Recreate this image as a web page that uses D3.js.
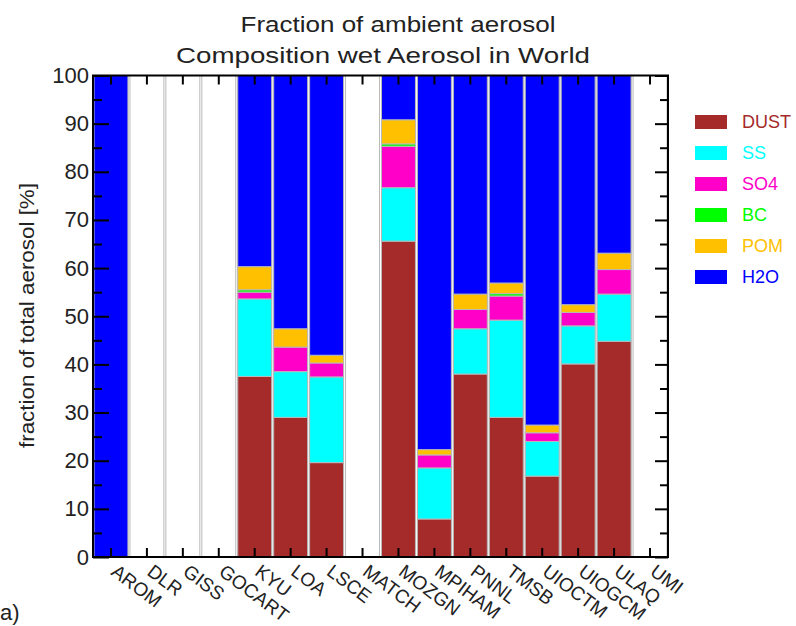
<!DOCTYPE html>
<html>
<head>
<meta charset="utf-8">
<script src="https://cdn.jsdelivr.net/npm/d3@7/dist/d3.min.js"></script>
<style>
  html, body { margin: 0; padding: 0; background: #fff; }
  svg { display: block; font-family: "Liberation Sans", Arial, Helvetica, sans-serif; }
</style>
</head>
<body>
<svg id="chart" width="796" height="626"></svg>
<script>
// Models along the x axis
const models = ["AROM", "DLR", "GISS", "GOCART", "KYU", "LOA", "LSCE", "MATCH",
                "MOZGN", "MPIHAM", "PNNL", "TMSB", "UIOCTM", "UIOGCM", "ULAQ", "UMI"];

// Component fractions of total wet aerosol [%] (null = model not available)
const dust = [0, null, null, null, 37.5, 29.0, 19.6, null, 65.6, 7.9, 38.0, 29.0, 16.8, 40.1, 44.8, null];
const ss   = [0, null, null, null, 16.1,  9.5, 17.8, null, 11.1, 10.6, 9.4, 20.2,  7.2,  7.9,  9.8, null];
const so4  = [0, null, null, null,  1.4,  5.1,  2.9, null,  8.6,  2.7, 4.0,  5.0,  1.8,  2.8,  5.1, null];
const bc   = [0, null, null, null,  0.5,  0.0,  0.0, null,  0.5,  0.0, 0.0,  0.5,  0.0,  0.0,  0.0, null];
const pom  = [0, null, null, null,  4.8,  3.8,  1.6, null,  5.0,  1.1, 3.2,  2.2,  1.6,  1.6,  3.4, null];
const h2o  = [100, null, null, null, 39.7, 52.6, 58.1, null, 9.2, 77.7, 45.4, 43.1, 72.6, 47.6, 36.9, null];

const components = ["DUST", "SS", "SO4", "BC", "POM", "H2O"];
const componentColors = ["#a52a2a", "#00ffff", "#ff00c8", "#00ff00", "#ffc000", "#0000ff"];

const yTicks = [0, 10, 20, 30, 40, 50, 60, 70, 80, 90, 100];

// Table for the stack layout
const series = [dust, ss, so4, bc, pom, h2o];
const rows = models.map((m, i) => {
  const r = { model: m };
  components.forEach((c, k) => { r[c] = series[k][i] == null ? 0 : series[k][i]; });
  return r;
});

const svg = d3.select("#chart");
const plotLeft = 93, plotRight = 668, plotTop = 75.5, plotBottom = 557;

const x = d3.scaleBand().domain(models).range([plotLeft, plotRight]).padding(0);
const y = d3.scaleLinear().domain([0, 100]).range([plotBottom, plotTop]);
const color = d3.scaleOrdinal().domain(components).range(componentColors);

const bw = x.bandwidth();
const barStroke = "#b9b9b9";

// Empty frame for every model slot
svg.append("g").selectAll("rect")
  .data(models)
  .join("rect")
  .attr("x", d => x(d) + 1)
  .attr("width", bw - 2)
  .attr("y", y(100))
  .attr("height", y(0) - y(100))
  .attr("fill", "#fff")
  .attr("stroke", barStroke)
  .attr("stroke-width", 1);

// Stacked component bars
const stacked = d3.stack().keys(components)(rows);
svg.append("g").selectAll("g")
  .data(stacked)
  .join("g")
  .attr("fill", d => color(d.key))
  .selectAll("rect")
  .data(d => d.filter(s => s[1] - s[0] > 0))
  .join("rect")
  .attr("x", d => x(d.data.model) + 1)
  .attr("width", bw - 2)
  .attr("y", d => y(d[1]))
  .attr("height", d => y(d[0]) - y(d[1]))
  .attr("stroke", barStroke)
  .attr("stroke-width", 1);

// Plot frame
svg.append("rect")
  .attr("x", plotLeft).attr("y", plotTop)
  .attr("width", plotRight - plotLeft).attr("height", plotBottom - plotTop)
  .attr("fill", "none").attr("stroke", "#000").attr("stroke-width", 2);

// Left axis: major ticks with labels, minor ticks between
const yMinor = yTicks.slice(0, -1).map(v => v + 5);
const yAxisL = d3.axisLeft(y).tickValues(yTicks).tickSize(-16).tickPadding(20).tickFormat(d3.format("d"));
const gL = svg.append("g").attr("transform", `translate(${plotLeft},0)`).call(yAxisL);
gL.select(".domain").remove();
gL.selectAll(".tick line").attr("stroke", "#000").attr("stroke-width", 2);
gL.selectAll(".tick text")
  .attr("x", -4)
  .attr("font-size", 22)
  .attr("fill", "#222")
  .attr("font-family", "Liberation Sans, Arial, sans-serif");

const gLm = svg.append("g").attr("transform", `translate(${plotLeft},0)`)
  .call(d3.axisLeft(y).tickValues(yMinor).tickSize(-9).tickFormat(""));
gLm.select(".domain").remove();
gLm.selectAll(".tick line").attr("stroke", "#000").attr("stroke-width", 2);

// Right axis: inward ticks, no labels
const gR = svg.append("g").attr("transform", `translate(${plotRight},0)`)
  .call(d3.axisRight(y).tickValues(yTicks).tickSize(-13).tickFormat(""));
gR.select(".domain").remove();
gR.selectAll(".tick line").attr("stroke", "#000").attr("stroke-width", 2);
const gRm = svg.append("g").attr("transform", `translate(${plotRight},0)`)
  .call(d3.axisRight(y).tickValues(yMinor).tickSize(-8).tickFormat(""));
gRm.select(".domain").remove();
gRm.selectAll(".tick line").attr("stroke", "#000").attr("stroke-width", 2);

// Top axis: inward ticks at each model
const gT = svg.append("g").attr("transform", `translate(0,${plotTop})`)
  .call(d3.axisTop(x).tickSize(-9).tickFormat(""));
gT.select(".domain").remove();
gT.selectAll(".tick line").attr("stroke", "#000").attr("stroke-width", 2);

// Bottom axis: inward ticks and slanted model names
const gB = svg.append("g").attr("transform", `translate(0,${plotBottom})`)
  .call(d3.axisBottom(x).tickSize(-9));
gB.select(".domain").remove();
gB.selectAll(".tick line").attr("stroke", "#000").attr("stroke-width", 2);
gB.selectAll(".tick text")
  .attr("x", 0).attr("y", 0).attr("dy", null)
  .attr("text-anchor", "start")
  .attr("transform", "translate(-1,17) rotate(37)")
  .attr("font-size", 19)
  .attr("fill", "#222")
  .attr("font-family", "Liberation Sans, Arial, sans-serif");

// Titles
svg.append("text")
  .attr("x", 398).attr("y", 32)
  .attr("text-anchor", "middle")
  .attr("font-size", 22).attr("fill", "#222")
  .attr("textLength", 315).attr("lengthAdjust", "spacingAndGlyphs")
  .text("Fraction of ambient aerosol");
svg.append("text")
  .attr("x", 383).attr("y", 63)
  .attr("text-anchor", "middle")
  .attr("font-size", 22).attr("fill", "#222")
  .attr("textLength", 414).attr("lengthAdjust", "spacingAndGlyphs")
  .text("Composition wet Aerosol in World");

// Y axis title
svg.append("text")
  .attr("transform", "translate(34,315.5) rotate(-90)")
  .attr("text-anchor", "middle")
  .attr("font-size", 21).attr("fill", "#222")
  .attr("textLength", 265).attr("lengthAdjust", "spacingAndGlyphs")
  .text("fraction of total aerosol [%]");

// Legend
const legend = svg.append("g").selectAll("g")
  .data(components)
  .join("g")
  .attr("transform", (d, i) => `translate(695,${115 + i * 31})`);
legend.append("rect")
  .attr("width", 32).attr("height", 14)
  .attr("fill", d => color(d));
legend.append("text")
  .attr("x", 47).attr("y", 7)
  .attr("dominant-baseline", "central")
  .attr("font-size", 18)
  .attr("fill", d => color(d))
  .text(d => d);

// Panel letter
svg.append("text")
  .attr("x", 0).attr("y", 620)
  .attr("text-anchor", "start")
  .attr("font-size", 22).attr("fill", "#222")
  .text("a)");
</script>
</body>
</html>
